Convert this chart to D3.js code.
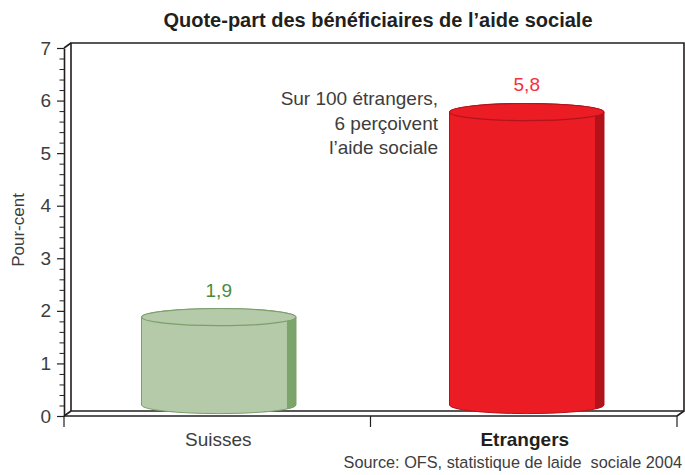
<!DOCTYPE html>
<html>
<head>
<meta charset="utf-8">
<script src="https://cdn.jsdelivr.net/npm/d3@7"></script>
<style>
  body { margin: 0; background: #fff; }
  text { font-family: "Liberation Sans", Arial, sans-serif; white-space: pre; }
</style>
</head>
<body>
<script>
const categories = ["Suisses", "Etrangers"];
const values = [1.9, 5.8];
const valueLabels = ["1,9", "5,8"];
const yTicks = [0, 1, 2, 3, 4, 5, 6, 7];
const titleText = "Quote-part des bénéficiaires de l’aide sociale";
const noteLines = ["Sur 100 étrangers,", "6 perçoivent", "l’aide sociale"];
const sourceText = "Source: OFS, statistique de laide  sociale 2004";

function main() {
  const width = 685, height = 475;
  const left = 64, right = 677, top = 48, bottom = 416;
  const dx = 7, dy = -5;      // depth of the 3d frame
  const ink = "#231f20";
  const grey = "#3d3d3d";

  const colors = [
    {body: "#b4caa8", side: "#7ba56b", edge: "#7d9f6c", label: "#4b8a3c"},
    {body: "#ec1c24", side: "#b3121b", edge: "#b0141c", label: "#ef3340"}
  ];

  const svg = d3.select("body")
    .append("svg")
    .attr("width", width)
    .attr("height", height);

  const x = d3.scaleBand().domain(categories).range([left, right]);
  const y = d3.scaleLinear().domain([0, 7]).range([bottom, top]);

  // title
  svg.append("text")
    .attr("x", 378).attr("y", 27)
    .attr("text-anchor", "middle")
    .attr("font-size", 20)
    .attr("font-weight", "bold")
    .attr("fill", ink)
    .text(titleText);

  // 3d frame
  const frame = svg.append("g")
    .attr("fill", "none")
    .attr("stroke", ink)
    .attr("stroke-width", 1.6);

  frame.append("path")
    .attr("d", `M${left + dx},${bottom + dy}V${top + dy}H${right + dx}V${bottom + dy}H${left + dx}`);
  frame.append("path")
    .attr("d", `M${left},${top}L${left + dx},${top + dy}`);
  frame.append("path")
    .attr("d", `M${left},${bottom}L${left + dx},${bottom + dy}M${right},${bottom}L${right + dx},${bottom + dy}`);

  // cylinders
  const rx = x.bandwidth() * 0.252, ry = 8.6;
  const baseY = y(0) - 11;

  const cyl = svg.append("g")
    .selectAll("g")
    .data(values)
    .join("g");

  cyl.each(function(v, i) {
    const g = d3.select(this);
    const c = colors[i];
    const cx = x(categories[i]) + x.bandwidth() / 2 + 1.5 + i * 1.5;
    const ty = y(v) + 1;
    const bodyPath = `M${cx - rx},${ty}V${baseY}A${rx},${ry} 0 0 0 ${cx + rx},${baseY}V${ty}A${rx},${ry} 0 0 0 ${cx - rx},${ty}Z`;

    g.append("clipPath").attr("id", "clip" + i)
      .append("path").attr("d", bodyPath);

    g.append("path")
      .attr("d", bodyPath)
      .attr("fill", c.body);

    g.append("rect")
      .attr("clip-path", `url(#clip${i})`)
      .attr("x", cx + rx - 9)
      .attr("y", ty - ry)
      .attr("width", 10)
      .attr("height", baseY - ty + 2 * ry)
      .attr("fill", c.side);

    g.append("path")
      .attr("d", bodyPath)
      .attr("fill", "none")
      .attr("stroke", c.edge)
      .attr("stroke-width", 1);

    g.append("ellipse")
      .attr("cx", cx).attr("cy", ty)
      .attr("rx", rx).attr("ry", ry)
      .attr("fill", c.body)
      .attr("stroke", c.edge)
      .attr("stroke-width", 1.2);

    g.append("text")
      .attr("x", cx).attr("y", ty - ry - 12)
      .attr("text-anchor", "middle")
      .attr("font-size", 19)
      .attr("fill", c.label)
      .text(valueLabels[i]);
  });

  // front floor line drawn over the cylinders' feet
  svg.append("path")
    .attr("d", `M${left},${bottom}H${right}`)
    .attr("stroke", ink)
    .attr("stroke-width", 1.6);

  // y axis
  const yAxis = svg.append("g")
    .attr("transform", `translate(${left},0)`)
    .call(d3.axisLeft(y).tickValues(yTicks).tickFormat(d3.format("d"))
      .tickSize(7).tickSizeOuter(0).tickPadding(6));
  yAxis.select(".domain").attr("stroke", ink).attr("stroke-width", 1.6);
  yAxis.selectAll(".tick line").attr("stroke", ink).attr("stroke-width", 1.2);
  yAxis.selectAll(".tick text")
    .attr("font-size", 19)
    .attr("font-family", "Liberation Sans, Arial, sans-serif")
    .attr("fill", grey);

  const minor = d3.range(0, 7.0001, 0.2).filter(d => Math.abs(d - Math.round(d)) > 1e-6);
  svg.append("g")
    .attr("transform", `translate(${left},0)`)
    .call(d3.axisLeft(y).tickValues(minor).tickSize(4.5).tickFormat(""))
    .call(g => g.select(".domain").remove())
    .selectAll(".tick line").attr("stroke", ink).attr("stroke-width", 1);

  // x axis ticks at band edges, labels at band centres
  const edges = categories.map(c => x(c)).concat([right]);
  svg.append("g")
    .selectAll("line")
    .data(edges)
    .join("line")
    .attr("x1", d => d).attr("x2", d => d)
    .attr("y1", bottom).attr("y2", bottom + 11)
    .attr("stroke", ink)
    .attr("stroke-width", 1.2);

  svg.append("g")
    .selectAll("text")
    .data(categories)
    .join("text")
    .attr("x", d => x(d) + x.bandwidth() / 2 + 1)
    .attr("y", 446)
    .attr("text-anchor", "middle")
    .attr("font-size", 19)
    .attr("font-weight", (d, i) => i == 1 ? "bold" : "normal")
    .attr("fill", (d, i) => i == 1 ? ink : grey)
    .text(d => d);

  // y label
  svg.append("text")
    .attr("transform", "translate(24,230) rotate(-90)")
    .attr("text-anchor", "middle")
    .attr("font-size", 17)
    .attr("fill", grey)
    .text("Pour-cent");

  // annotation
  svg.append("text")
    .attr("text-anchor", "end")
    .attr("font-size", 19)
    .attr("fill", grey)
    .selectAll("tspan")
    .data(noteLines)
    .join("tspan")
    .attr("x", 438)
    .attr("y", (d, i) => 105 + i * 24.5)
    .text(d => d);

  // source
  svg.append("text")
    .attr("x", 682).attr("y", 468)
    .attr("text-anchor", "end")
    .attr("font-size", 16.3)
    .attr("fill", grey)
    .text(sourceText);
}

window.addEventListener("load", main);
</script>
</body>
</html>
